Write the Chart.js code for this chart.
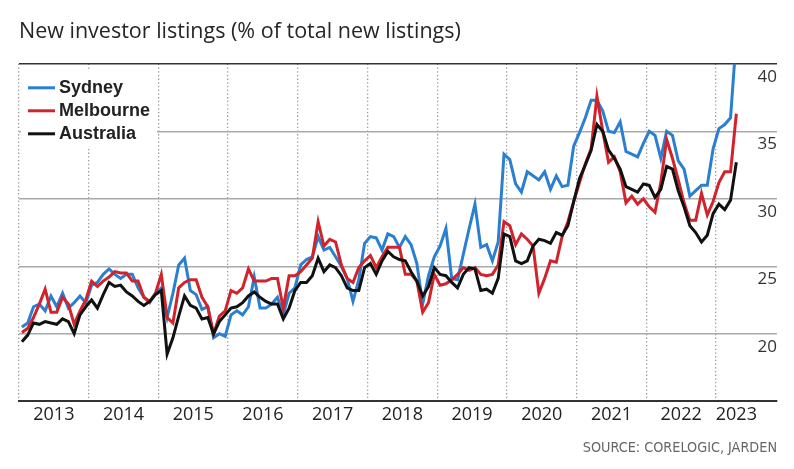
<!DOCTYPE html>
<html>
<head>
<meta charset="utf-8">
<script src="https://cdn.jsdelivr.net/npm/chart.js@4.4.1/dist/chart.umd.min.js"></script>
<style>
  html, body { margin: 0; padding: 0; background: #fff; }
  #wrap { width: 794px; height: 469px; }
</style>
</head>
<body>
<div id="wrap"><canvas id="chart"></canvas></div>
<script>
// monthly, Jan 2013 .. Apr 2023
const yearLabels = ["2013", "2014", "2015", "2016", "2017", "2018", "2019", "2020", "2021", "2022", "2023"];
const yTicks = [20, 25, 30, 35, 40];

const sydney = [
  20.5, 20.8, 22.0, 22.2, 21.7, 22.8, 22.0, 23.0, 21.9, 22.3, 22.8, 22.3,
  23.6, 23.8, 24.4, 24.8, 24.4, 24.1, 24.4, 24.4, 23.4, 22.7, 22.3, 23.0,
  23.4, 21.2, 23.0, 25.1, 25.6, 23.2, 22.9, 21.8, 22.0, 19.7, 20.0, 19.8,
  21.4, 21.7, 21.4, 22.0, 24.2, 21.9, 21.9, 22.2, 22.7, 21.4, 23.0, 23.4,
  25.1, 25.5, 25.7, 27.2, 26.2, 26.4, 25.7, 25.0, 24.1, 22.4, 24.0, 26.7,
  27.2, 27.1, 26.2, 27.4, 27.2, 26.4, 27.2, 26.6, 25.2, 22.2, 24.3, 25.7,
  26.5, 27.8, 24.1, 24.0, 25.9, 27.8, 29.6, 26.4, 26.6, 25.4, 26.8, 33.3,
  32.9, 31.1, 30.5, 32.0, 31.7, 31.4, 32.0, 30.7, 31.7, 30.9, 31.0, 33.9,
  34.9, 36.0, 37.3, 37.3, 36.5, 35.0, 34.9, 35.7, 33.5, 33.3, 33.1, 34.1,
  35.0, 34.7, 33.0, 35.0, 34.7, 32.8, 32.2, 30.2, 30.6, 31.0, 31.0, 33.7,
  35.2, 35.5, 36.0, 42.0
];

const melbourne = [
  20.1, 20.4, 21.2, 22.2, 23.3, 21.6, 21.6, 22.7, 22.2, 20.7, 21.7, 22.5,
  23.9, 23.5, 23.9, 24.2, 24.6, 24.5, 24.5, 23.9, 23.9, 22.7, 22.4, 23.0,
  24.4, 21.2, 20.8, 23.4, 23.8, 24.0, 24.0, 22.7, 22.0, 20.0, 21.3, 21.7,
  23.2, 23.0, 23.4, 24.8, 23.9, 23.9, 23.9, 24.1, 24.1, 21.9, 24.3, 24.3,
  24.6, 25.1, 25.6, 28.3, 26.5, 27.0, 26.8, 25.1, 24.1, 23.8, 24.9, 25.4,
  25.8, 24.9, 25.7, 26.4, 26.4, 26.4, 24.4, 24.4, 23.9, 21.6, 22.3, 24.4,
  23.6, 23.7, 24.0, 24.4, 24.9, 24.7, 24.9, 24.4, 24.3, 24.4, 25.1, 28.3,
  28.0, 26.6, 27.4, 27.0, 26.5, 23.0, 24.1, 25.4, 25.3, 27.2, 28.3, 29.8,
  31.2, 32.6, 33.7, 37.6, 35.0, 32.7, 33.1, 32.0, 29.7, 30.2, 29.6, 30.0,
  29.4, 29.0, 31.2, 34.4, 33.0, 31.4, 29.7, 28.4, 28.4, 30.4, 28.8, 29.8,
  31.2, 32.0, 32.0, 36.3
];

const australia = [
  19.4, 19.9, 20.8, 20.7, 20.9, 20.8, 20.7, 21.1, 20.9, 20.0, 21.4, 22.0,
  22.5, 21.9, 22.9, 23.8, 23.5, 23.6, 23.1, 22.8, 22.4, 22.1, 22.4, 22.9,
  23.2, 18.5, 19.7, 21.3, 22.8, 22.1, 21.9, 21.1, 21.2, 20.0, 20.9, 21.4,
  21.9, 22.0, 22.3, 22.8, 23.1, 22.7, 22.4, 22.2, 22.2, 21.1, 21.9, 23.2,
  23.8, 23.8, 24.3, 25.6, 24.6, 25.1, 24.9, 24.3, 23.4, 23.2, 23.2, 24.9,
  25.2, 24.4, 25.4, 26.1, 25.7, 25.5, 25.4, 24.6, 23.9, 22.8, 23.5, 24.9,
  24.4, 24.3, 23.8, 23.4, 24.4, 24.9, 24.8, 23.2, 23.3, 23.0, 24.1, 27.4,
  27.2, 25.4, 25.2, 25.4, 26.5, 27.0, 26.9, 26.7, 27.5, 27.3, 28.0, 29.8,
  31.5, 32.5, 33.6, 35.5, 35.0, 33.6, 33.0, 32.2, 30.9, 30.7, 30.5, 31.1,
  31.0, 30.1, 30.7, 32.4, 32.2, 30.6, 29.4, 28.0, 27.5, 26.8, 27.3, 28.9,
  29.6, 29.2, 29.9, 32.7
];

// points sit mid-month; x is months since Jan 2013
const toPoints = (arr) => arr.map((v, i) => ({ x: i + 0.5, y: v }));
const lastX = sydney.length - 0.5;

// year starts get the dotted line, mid-years carry the label
const xTicks = [];
yearLabels.forEach((_, i) => {
  xTicks.push(i * 12);
  xTicks.push(Math.min(i * 12 + 6, lastX));
});

const legendBox = {
  id: "legendBox",
  beforeDatasetsDraw(chart) {
    const { ctx, chartArea } = chart;
    const left = chartArea.left;
    const top = chartArea.top;
    ctx.save();
    ctx.fillStyle = "#fff";
    ctx.fillRect(left + 2, top + 7, 136, 78);
    ctx.font = "bold 18px 'Liberation Sans', Arial, sans-serif";
    ctx.textBaseline = "middle";
    chart.data.datasets.forEach((ds, i) => {
      const y = top + 24 + i * 23;
      ctx.strokeStyle = ds.borderColor;
      ctx.lineWidth = 3;
      ctx.beginPath();
      ctx.moveTo(left + 9, y);
      ctx.lineTo(left + 36, y);
      ctx.stroke();
      ctx.fillStyle = "#222";
      ctx.fillText(ds.label, left + 40, y);
    });
    ctx.restore();
  },
};

const line = (label, data, color, order) => ({
  label,
  data: toPoints(data),
  borderColor: color,
  borderWidth: 3,
  pointRadius: 0,
  tension: 0,
  order,
});

new Chart(document.getElementById("chart"), {
  type: "line",
  data: {
    datasets: [
      line("Sydney", sydney, "#2a7fd1", 3),
      line("Melbourne", melbourne, "#d0232b", 2),
      line("Australia", australia, "#111111", 1),
    ],
  },
  options: {
    responsive: true,
    maintainAspectRatio: false,
    animation: false,
    layout: { padding: { left: 19, right: 17, top: 0, bottom: 0 } },
    plugins: {
      legend: { display: false },
      tooltip: { enabled: false },
      title: {
        display: true,
        text: "New investor listings (% of total new listings)",
        align: "start",
        color: "#262626",
        font: { family: "'Open Sans', sans-serif", size: 21.5, weight: "normal" },
        padding: { top: 19, bottom: 19 },
      },
      subtitle: {
        display: true,
        text: "SOURCE: CORELOGIC, JARDEN",
        position: "bottom",
        align: "end",
        color: "#666",
        font: { family: "'Liberation Sans Narrow', 'DejaVu Sans Condensed', 'Open Sans', sans-serif", size: 14.3 },
        padding: { top: 11, bottom: 12 },
      },
    },
    scales: {
      x: {
        type: "linear",
        min: 0,
        max: 130.5,
        afterBuildTicks: (scale) => {
          scale.ticks = xTicks.map((v) => ({ value: v }));
        },
        afterFit: (scale) => {
          scale.paddingLeft = 0;
          scale.paddingRight = 0;
        },
        ticks: {
          autoSkip: false,
          maxRotation: 0,
          padding: 3,
          color: "#222",
          font: { family: "'Open Sans', sans-serif", size: 18 },
          callback: (v) => (v % 12 === 0 ? "" : yearLabels[Math.floor(v / 12)]),
        },
        grid: {
          color: (c) => (c.tick && c.tick.value % 12 === 0 ? "#999" : "rgba(0,0,0,0)"),
          lineWidth: 1.3,
          drawTicks: false,
        },
        border: { display: true, color: "#333", width: 2, dash: [1.3, 2.4] },
      },
      y: {
        position: "right",
        min: 15,
        max: 40,
        afterBuildTicks: (scale) => {
          scale.ticks = yTicks.map((v) => ({ value: v }));
        },
        ticks: {
          mirror: true,
          padding: 0,
          labelOffset: 13,
          color: "#333",
          font: { family: "'Open Sans', sans-serif", size: 17 },
        },
        grid: {
          color: (c) => (c.tick && c.tick.value === 40 ? "#333" : "#aaa"),
          lineWidth: 1.5,
          drawTicks: false,
        },
        border: { display: false },
      },
    },
  },
  plugins: [legendBox],
});
</script>
</body>
</html>
